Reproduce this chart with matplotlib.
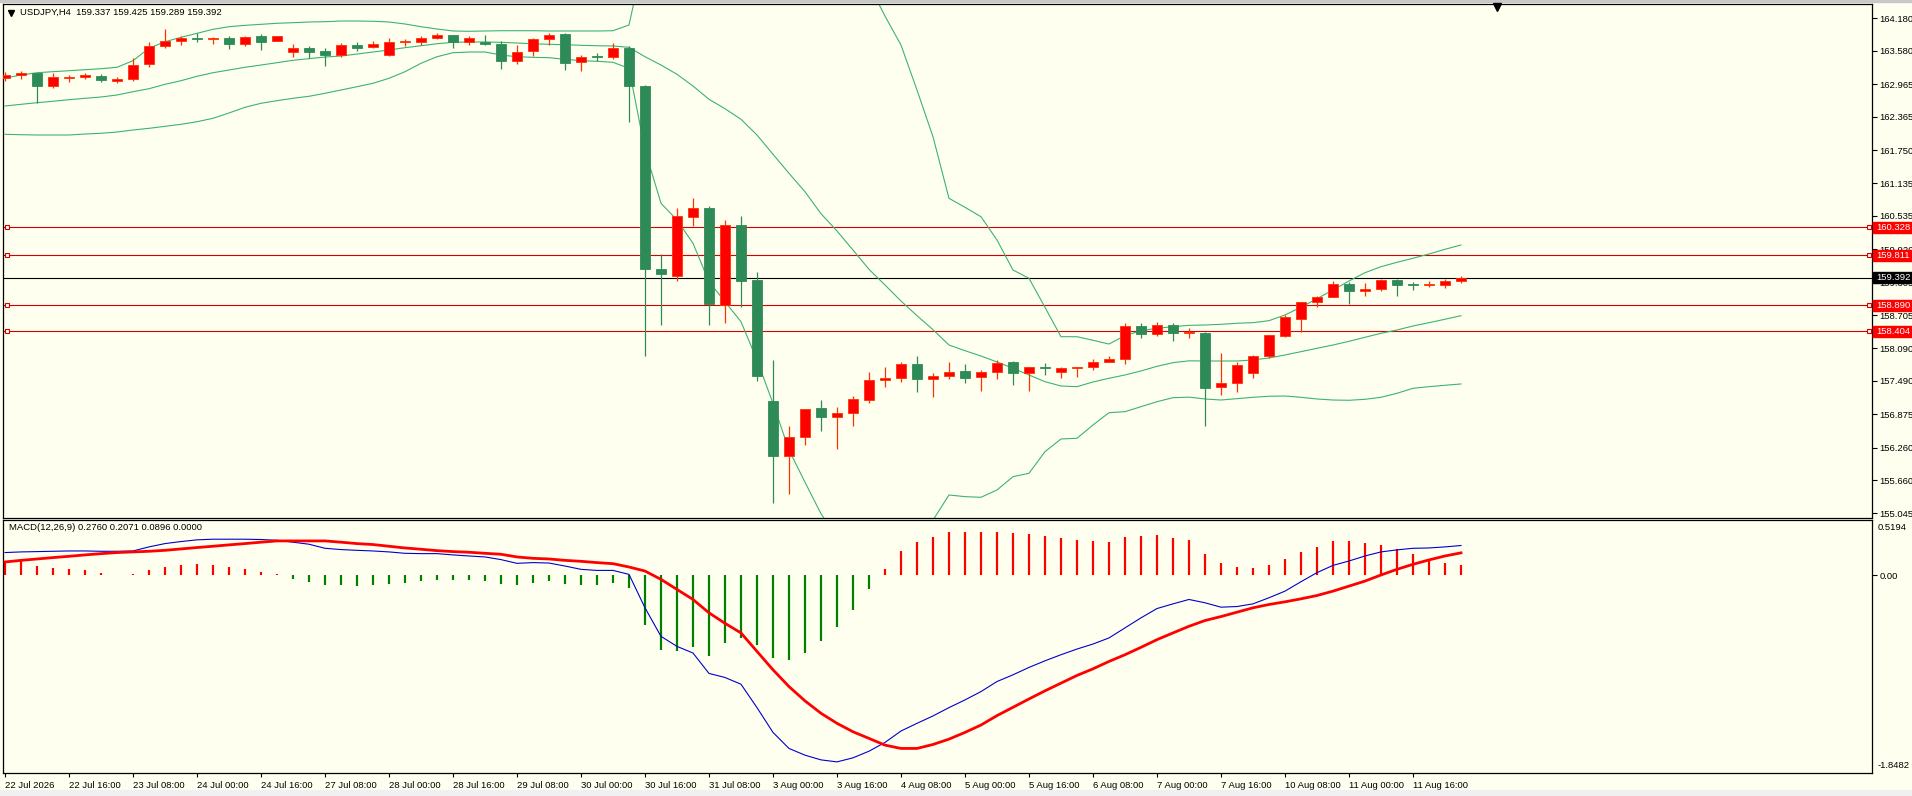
import matplotlib
matplotlib.use("Agg")
import matplotlib.pyplot as plt
import matplotlib.transforms as mtransforms
from matplotlib.patches import Rectangle
import numpy as np

# USDJPY H4 candles, 22 Jul 2026 00:00 .. 12 Aug 04:00
opens = [163.085, 163.128, 163.177, 162.937, 163.08, 163.09, 163.11, 163.03, 163.055, 163.33,
         163.66, 163.76, 163.80, 163.79, 163.82, 163.71, 163.85, 163.77, 163.55, 163.63,
         163.58, 163.51, 163.69, 163.65, 163.50, 163.74, 163.74, 163.81, 163.87, 163.75,
         163.74, 163.71, 163.40, 163.57, 163.79, 163.89, 163.37, 163.47, 163.47, 163.63,
         162.94, 159.55, 159.43, 160.52, 160.68, 158.89, 160.37, 159.35, 157.12, 156.11,
         156.45, 156.99, 156.82, 156.89, 157.14, 157.51, 157.54, 157.80, 157.53, 157.58,
         157.67, 157.56, 157.65, 157.83, 157.63, 157.74, 157.65, 157.72, 157.74, 157.84,
         157.89, 158.50, 158.35, 158.52, 158.37, 158.37, 157.37, 157.45, 157.63, 157.94,
         158.32, 158.64, 158.94, 159.03, 159.27, 159.14, 159.18, 159.35, 159.27, 159.25,
         159.26, 159.337]
highs = [163.195, 163.21, 163.18, 163.17, 163.14, 163.18, 163.15, 163.09, 163.44, 163.74,
         163.98, 163.86, 163.91, 163.84, 163.85, 163.86, 163.89, 163.86, 163.70, 163.66,
         163.63, 163.72, 163.74, 163.77, 163.81, 163.79, 163.85, 163.91, 163.87, 163.86,
         163.87, 163.77, 163.69, 163.81, 163.90, 163.90, 163.51, 163.54, 163.72, 163.66,
         162.95, 159.83, 160.68, 160.86, 160.72, 160.45, 160.53, 159.50, 157.88, 156.65,
         156.98, 157.14, 157.01, 157.21, 157.65, 157.74, 157.84, 157.95, 157.63, 157.84,
         157.80, 157.69, 157.87, 157.86, 157.75, 157.82, 157.75, 157.74, 157.90, 157.94,
         158.55, 158.55, 158.57, 158.55, 158.46, 158.39, 158.00, 157.83, 157.96, 158.33,
         158.70, 158.94, 159.05, 159.34, 159.31, 159.29, 159.37, 159.37, 159.31, 159.34,
         159.37, 159.425]
lows = [163.03, 163.06, 162.62, 162.89, 163.00, 163.06, 163.01, 162.99, 163.03, 163.28,
        163.63, 163.68, 163.74, 163.70, 163.62, 163.66, 163.59, 163.76, 163.47, 163.44,
        163.30, 163.47, 163.57, 163.64, 163.48, 163.67, 163.68, 163.79, 163.63, 163.69,
        163.68, 163.25, 163.34, 163.49, 163.69, 163.22, 163.21, 163.39, 163.43, 162.27,
        157.94, 158.52, 159.34, 160.34, 158.52, 158.56, 158.85, 157.48, 155.23, 155.40,
        156.31, 156.57, 156.23, 156.66, 157.09, 157.38, 157.47, 157.29, 157.20, 157.52,
        157.45, 157.30, 157.52, 157.41, 157.30, 157.60, 157.54, 157.56, 157.70, 157.83,
        157.81, 158.28, 158.32, 158.22, 158.28, 156.66, 157.23, 157.28, 157.54, 157.91,
        158.30, 158.40, 158.85, 159.03, 158.90, 159.06, 159.14, 159.06, 159.16, 159.23,
        159.21, 159.289]
closes = [163.135, 163.177, 162.937, 163.097, 163.10, 163.13, 163.04, 163.06, 163.32, 163.67,
          163.76, 163.82, 163.79, 163.81, 163.71, 163.83, 163.75, 163.85, 163.63, 163.56,
          163.51, 163.69, 163.64, 163.71, 163.74, 163.745, 163.81, 163.87, 163.74, 163.82,
          163.70, 163.40, 163.56, 163.79, 163.88, 163.36, 163.47, 163.46, 163.64, 162.93,
          159.55, 159.47, 160.53, 160.68, 158.91, 160.37, 159.34, 157.58, 156.10, 156.46,
          156.98, 156.82, 156.89, 157.16, 157.51, 157.55, 157.80, 157.52, 157.58, 157.65,
          157.55, 157.65, 157.82, 157.63, 157.74, 157.72, 157.72, 157.74, 157.84, 157.90,
          158.50, 158.36, 158.52, 158.37, 158.39, 157.36, 157.45, 157.78, 157.95, 158.33,
          158.66, 158.94, 159.03, 159.27, 159.14, 159.18, 159.35, 159.25, 159.25, 159.27,
          159.33, 159.392]

# Bollinger bands as drawn (values past the panel edge are estimates)
bb_upper = [163.078, 163.134, 163.176, 163.195, 163.213, 163.232, 163.25, 163.276, 163.398, 163.627,
            163.748, 163.829, 163.903, 163.977, 164.025, 164.05, 164.069, 164.088, 164.099, 164.112,
            164.117, 164.13, 164.13, 164.125, 164.112, 164.075, 164.025, 163.983, 163.946, 163.94,
            163.946, 163.951, 163.951, 163.951, 163.946, 163.946, 163.946, 163.946, 163.951, 164.056,
            165.4, 165.9, 165.9, 165.8, 165.9, 165.8, 165.7, 165.7, 165.8, 165.7,
            165.6, 165.4, 165.2, 165.0, 164.8, 164.222, 163.687, 162.857, 161.996, 160.859,
            160.693, 160.519, 160.09, 159.536, 159.383, 158.848, 158.305, 158.305, 158.239, 158.17,
            158.324, 158.416, 158.46, 158.49, 158.515, 158.521, 158.534, 158.553, 158.564, 158.601,
            158.706, 158.848, 159.007, 159.167, 159.333, 159.486, 159.597, 159.678, 159.752, 159.831,
            159.918, 159.997]
bb_middle = [162.562, 162.593, 162.623, 162.649, 162.678, 162.704, 162.728, 162.765, 162.826, 162.881,
             162.962, 163.029, 163.11, 163.176, 163.226, 163.276, 163.318, 163.361, 163.405, 163.435,
             163.466, 163.484, 163.521, 163.558, 163.595, 163.638, 163.674, 163.711, 163.737, 163.743,
             163.743, 163.737, 163.724, 163.711, 163.70, 163.693, 163.682, 163.674, 163.669, 163.645,
             163.471, 163.318, 163.147, 162.931, 162.686, 162.512, 162.317, 162.027, 161.671, 161.32,
             160.98, 160.575, 160.256, 159.905, 159.549, 159.259, 158.964, 158.693, 158.435, 158.152,
             158.047, 157.949, 157.839, 157.722, 157.599, 157.475, 157.396, 157.383, 157.47, 157.538,
             157.599, 157.673, 157.759, 157.826, 157.86, 157.857, 157.857, 157.857, 157.876, 157.913,
             157.968, 158.029, 158.091, 158.152, 158.22, 158.294, 158.368, 158.429, 158.503, 158.564,
             158.627, 158.693]
bb_lower = [162.040, 162.032, 162.027, 162.027, 162.027, 162.045, 162.058, 162.082, 162.119, 162.150,
            162.187, 162.224, 162.272, 162.335, 162.433, 162.538, 162.612, 162.66, 162.704, 162.741,
            162.796, 162.857, 162.918, 162.981, 163.073, 163.195, 163.35, 163.471, 163.545, 163.558,
            163.558, 163.503, 163.471, 163.46, 163.453, 163.424, 163.398, 163.387, 163.368, 163.257,
            161.75, 160.767, 160.459, 160.029, 159.32, 158.951, 158.582, 157.876, 157.077, 156.215,
            155.62, 155.04, 154.6, 154.4, 154.4, 154.5, 154.6, 154.8, 154.92, 155.385,
            155.354, 155.342, 155.477, 155.722, 155.785, 156.184, 156.418, 156.431, 156.676, 156.903,
            156.922, 157.014, 157.106, 157.18, 157.19, 157.156, 157.137, 157.162, 157.187, 157.206,
            157.211, 157.187, 157.156, 157.137, 157.132, 157.15, 157.187, 157.261, 157.353, 157.383,
            157.409, 157.433]

# MACD(12,26,9)
macd_hist = [0.116, 0.132, 0.088, 0.069, 0.053, 0.044, 0.022, 0.003, 0.006, 0.044,
             0.072, 0.094, 0.103, 0.091, 0.072, 0.056, 0.028, 0.006, -0.041, -0.069,
             -0.094, -0.094, -0.103, -0.094, -0.081, -0.072, -0.056, -0.050, -0.050, -0.050,
             -0.056, -0.088, -0.094, -0.075, -0.056, -0.088, -0.094, -0.094, -0.075, -0.125,
             -0.470, -0.699, -0.711, -0.677, -0.758, -0.636, -0.586, -0.658, -0.777, -0.799,
             -0.727, -0.620, -0.489, -0.329, -0.132, 0.053, 0.222, 0.307, 0.354, 0.401,
             0.401, 0.398, 0.407, 0.392, 0.382, 0.363, 0.345, 0.326, 0.316, 0.307,
             0.354, 0.363, 0.373, 0.345, 0.326, 0.194, 0.110, 0.072, 0.063, 0.091,
             0.147, 0.213, 0.260, 0.316, 0.316, 0.298, 0.279, 0.241, 0.197, 0.148,
             0.112, 0.0896]
macd_main = [0.210, 0.216, 0.219, 0.222, 0.225, 0.225, 0.222, 0.222, 0.225, 0.263,
             0.294, 0.313, 0.329, 0.335, 0.335, 0.335, 0.332, 0.325, 0.307, 0.288,
             0.250, 0.238, 0.231, 0.225, 0.216, 0.203, 0.200, 0.200, 0.188, 0.178,
             0.169, 0.144, 0.109, 0.116, 0.112, 0.084, 0.053, 0.043, 0.043, 0.006,
             -0.307, -0.574, -0.668, -0.730, -0.921, -0.959, -1.022, -1.241, -1.473, -1.623,
             -1.686, -1.730, -1.749, -1.711, -1.649, -1.567, -1.460, -1.388, -1.319, -1.241,
             -1.169, -1.091, -0.997, -0.934, -0.865, -0.803, -0.746, -0.693, -0.646, -0.589,
             -0.495, -0.401, -0.314, -0.270, -0.229, -0.260, -0.301, -0.295, -0.270, -0.213,
             -0.151, -0.063, 0.022, 0.090, 0.131, 0.178, 0.216, 0.235, 0.250, 0.253,
             0.263, 0.276]
macd_signal = [0.122, 0.137, 0.150, 0.163, 0.175, 0.188, 0.200, 0.210, 0.216, 0.222,
               0.231, 0.244, 0.257, 0.269, 0.282, 0.294, 0.307, 0.319, 0.319, 0.319,
               0.319, 0.307, 0.294, 0.285, 0.269, 0.253, 0.241, 0.228, 0.219, 0.213,
               0.203, 0.194, 0.169, 0.156, 0.150, 0.137, 0.128, 0.116, 0.106, 0.075,
               0.037, -0.041, -0.135, -0.229, -0.354, -0.452, -0.542, -0.715, -0.887, -1.044,
               -1.178, -1.294, -1.388, -1.467, -1.529, -1.592, -1.623, -1.623, -1.586, -1.536,
               -1.473, -1.404, -1.316, -1.238, -1.160, -1.084, -1.012, -0.940, -0.878, -0.809,
               -0.746, -0.677, -0.605, -0.542, -0.480, -0.426, -0.389, -0.348, -0.307, -0.276,
               -0.251, -0.223, -0.192, -0.151, -0.104, -0.057, 0.000, 0.053, 0.100, 0.141,
               0.178, 0.2071]

level_lines = [160.328, 159.811, 158.890, 158.404]
last_price = 159.392

price_ticks = [164.180, 163.580, 162.965, 162.365, 161.750, 161.135, 160.535, 159.920,
               159.305, 158.705, 158.090, 157.490, 156.875, 156.260, 155.660, 155.045]

time_labels = ["22 Jul 2026", "22 Jul 16:00", "23 Jul 08:00", "24 Jul 00:00", "24 Jul 16:00",
               "27 Jul 08:00", "28 Jul 00:00", "28 Jul 16:00", "29 Jul 08:00", "30 Jul 00:00",
               "30 Jul 16:00", "31 Jul 08:00", "3 Aug 00:00", "3 Aug 16:00", "4 Aug 08:00",
               "5 Aug 00:00", "5 Aug 16:00", "6 Aug 08:00", "7 Aug 00:00", "7 Aug 16:00",
               "10 Aug 08:00", "11 Aug 00:00", "11 Aug 16:00"]


plt.rcParams["font.family"] = ["Liberation Sans", "DejaVu Sans"]
FS = 6.8

BG = "#FFFFF0"
BULL = "#FF0000"
BULL_EDGE = "#FF3300"
BEAR = "#2E8B57"
BAND = "#3CB371"
LEVEL = "#D40000"

W, H = 1912, 796
fig = plt.figure(figsize=(W / 100, H / 100), dpi=100, facecolor=BG)

ax1 = fig.add_axes([3 / W, 1 - 518 / H, 1869 / W, 514 / H], facecolor=BG)
ax2 = fig.add_axes([3 / W, 1 - 772.5 / H, 1869 / W, 253 / H], facecolor=BG)

x = np.arange(len(closes))
o = np.array(opens)
c = np.array(closes)
up = c >= o

fills = [BULL if u else BEAR for u in up]
edges = [BULL_EDGE if u else BEAR for u in up]

# price panel
ax1.plot(x, bb_upper, color=BAND, lw=0.8, zorder=2)
ax1.plot(x, bb_middle, color=BAND, lw=0.8, zorder=2)
ax1.plot(x, bb_lower, color=BAND, lw=0.8, zorder=2)

for lv in level_lines:
    ax1.axhline(lv, color=LEVEL, lw=0.8, zorder=1)
ax1.axhline(last_price, color="black", lw=0.8, zorder=1)
ax1.plot([0.12] * len(level_lines), level_lines, ls="none", marker="s", ms=3.5,
         mfc=BG, mec=LEVEL, mew=0.8, zorder=3)
ax1.plot([116.5] * len(level_lines), level_lines, ls="none", marker="s", ms=3.5,
         mfc=BG, mec=LEVEL, mew=0.8, zorder=3, clip_on=False)

ax1.vlines(x, lows, highs, colors=edges, lw=0.9, zorder=4)
body_bottom = np.minimum(o, c)
body_height = np.maximum(np.abs(c - o), 0.018)
ax1.bar(x, body_height, bottom=body_bottom, width=0.62, color=fills,
        edgecolor=edges, linewidth=0.6, zorder=5)

ax1.set_xlim(-0.125, 116.69)
ax1.set_ylim(154.96, 164.444)
ax1.set_xticks([])
ax1.yaxis.tick_right()
ax1.set_yticks(price_ticks)
ax1.set_yticklabels(["%.3f" % t for t in price_ticks])
ax1.tick_params(axis="y", direction="out", length=3.5, width=0.8, pad=2,
                labelsize=FS, colors="black")

# MACD panel
hist_colors = [BULL if v >= 0 else "#008000" for v in macd_hist]
ax2.vlines(x, 0, macd_hist, colors=hist_colors, lw=1.6, zorder=2)
ax2.plot(x, macd_main, color="#0000CD", lw=0.8, zorder=3)
ax2.plot(x, macd_signal, color="#FF0000", lw=2.0, zorder=4)

ax2.set_xlim(-0.125, 116.69)
ax2.set_ylim(-1.8482, 0.5194)
ax2.yaxis.tick_right()
ax2.set_yticks([0.0])
ax2.set_yticklabels(["0.00"])
ax2.tick_params(axis="y", direction="out", length=3.5, width=0.8, pad=2,
                labelsize=FS)
tick_pos = list(range(0, 4 * len(time_labels), 4))
ax2.set_xticks(tick_pos)
ax2.set_xticklabels(time_labels, ha="left")
ax2.tick_params(axis="x", direction="out", length=3, width=0.8, pad=3,
                labelsize=FS)
ax2.text(1 + 6 / 1869, 1 - 3 / 253, "0.5194", transform=ax2.transAxes,
         va="top", ha="left", fontsize=FS)
ax2.text(1 + 6 / 1869, 2 / 253, "-1.8482", transform=ax2.transAxes,
         va="bottom", ha="left", fontsize=FS)

for ax in (ax1, ax2):
    for s in ax.spines.values():
        s.set_color("black")
        s.set_linewidth(0.9)

# price labels on the right scale
blend = mtransforms.blended_transform_factory(fig.transFigure, ax1.transData)
box_h = 11 / 54.2
for lv in level_lines:
    fig.patches.append(Rectangle((1873 / W, lv - box_h / 2), 39 / W, box_h,
                                 transform=blend, color="#FF0000", zorder=5))
    fig.text(1876 / W, lv, "%.3f" % lv, transform=blend, va="center", ha="left",
             fontsize=FS, color="white", zorder=6)
fig.patches.append(Rectangle((1873 / W, last_price - box_h / 2), 39 / W, box_h,
                             transform=blend, color="black", zorder=5))
fig.text(1876 / W, last_price, "%.3f" % last_price, transform=blend, va="center",
         ha="left", fontsize=FS, color="white", zorder=6)

# headers
fig.text(20 / W, 1 - 12.5 / H, "USDJPY,H4  159.337 159.425 159.289 159.392",
         va="center", ha="left", fontsize=FS)
fig.text(9 / W, 1 - 527 / H, "MACD(12,26,9) 0.2760 0.2071 0.0896 0.0000",
         va="center", ha="left", fontsize=FS)
fig.lines.append(plt.Line2D([10.5 / W], [1 - 12.5 / H], transform=fig.transFigure,
                            marker="v", ms=4.5, color="black", ls="none"))
fig.lines.append(plt.Line2D([1497 / W], [1 - 7 / H], transform=fig.transFigure,
                            marker="v", ms=6, color="black", ls="none"))

fig.patches.append(Rectangle((0, 0), 1, 6 / H, transform=fig.transFigure,
                             color="#F0F0F0", zorder=0))
fig.patches.append(Rectangle((0, 1 - 2 / H), 1, 2 / H, transform=fig.transFigure,
                             color="#C8C8C8", zorder=0))

fig.savefig("out.png", dpi=100, facecolor=BG)
